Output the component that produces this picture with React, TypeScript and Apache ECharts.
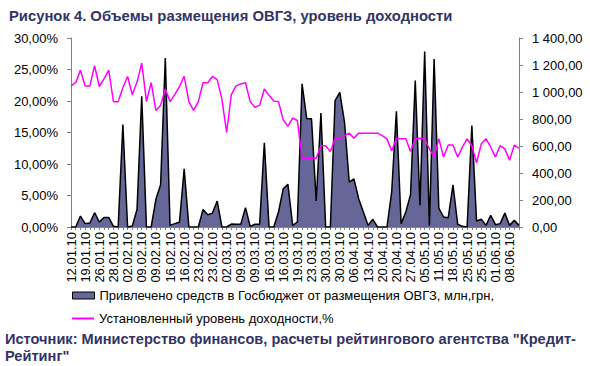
import React, { useEffect, useRef } from "react";
import * as echarts from "echarts";

// Tick labels shown on the category axis (every third auction)
const tickLabels = [
  "12.01.10", "19.01.10", "26.01.10", "28.01.10", "02.02.10", "09.02.10", "09.02.10", "16.02.10",
  "16.02.10", "23.02.10", "23.02.10", "02.03.10", "09.03.10", "09.03.10", "16.03.10", "16.03.10",
  "19.03.10", "23.03.10", "30.03.10", "30.03.10", "06.04.10", "13.04.10", "20.04.10", "20.04.10",
  "27.04.10", "05.05.10", "11.05.10", "18.05.10", "25.05.10", "25.05.10", "01.06.10", "08.06.10",
];

// Funds raised, mln UAH (right axis)
const placementVolume = [
  0, 0, 81, 25, 30, 106, 37, 71, 71, 5,
  0, 759, 0, 7, 130, 969, 0, 0, 205, 313,
  1252, 12, 25, 35, 431, 0, 0, 0, 130, 91,
  103, 192, 0, 0, 22, 20, 20, 143, 5, 20,
  20, 624, 0, 0, 111, 283, 316, 12, 37, 1060,
  801, 801, 192, 845, 0, 0, 937, 998, 776, 333,
  357, 210, 111, 12, 57, 0, 0, 0, 259, 858,
  25, 111, 240, 1085, 160, 1299, 12, 1245, 140, 74,
  69, 313, 20, 5, 0, 752, 44, 57, 12, 86,
  17, 25, 103, 12, 49, 12,
];

// Yield level, % (left axis)
const yieldLevel = [
  22.4, 22.9, 24.9, 22.4, 22.4, 25.6, 22.3, 23.5, 24.9, 19.9,
  19.9, 22.1, 23.9, 21.0, 23.0, 26.0, 19.9, 22.9, 18.5, 19.3,
  21.9, 19.9, 21.0, 22.3, 23.9, 19.9, 18.5, 19.9, 22.9, 22.9,
  23.9, 23.4, 20.3, 15.0, 21.0, 22.4, 22.7, 22.9, 19.9, 19.0,
  19.3, 21.9, 20.9, 20.0, 19.9, 17.0, 16.0, 17.3, 16.9, 10.9,
  10.9, 10.9, 10.9, 12.9, 12.9, 12.0, 14.0, 14.0, 14.5, 14.9,
  14.1, 14.9, 14.9, 14.9, 14.9, 14.9, 14.5, 14.0, 12.1, 14.0,
  14.0, 14.0, 12.0, 14.0, 14.1, 14.0, 12.4, 11.1, 14.0, 11.1,
  13.0, 13.0, 11.1, 12.7, 14.0, 12.9, 10.2, 13.2, 14.0, 12.7,
  11.1, 12.9, 12.4, 10.6, 13.0, 12.5,
];

const seriesNames = [
  "Привлечено средств в Госбюджет от размещения ОВГЗ, млн,грн,",
  "Установленный уровень доходности,%",
];

const titleText = "Рисунок 4. Объемы размещения ОВГЗ, уровень доходности";
const sourceText =
  'Источник: Министерство финансов, расчеты рейтингового агентства "Кредит-\nРейтинг"';

const FONT = "'Liberation Sans', Arial, sans-serif";
const NAVY = "#333366";
const AREA = "#666699";
const MAGENTA = "#ff00ff";

function fmtComma(v: number): string {
  const s = v.toFixed(2);
  const [intPart, dec] = s.split(".");
  const withSpaces = intPart.replace(/\B(?=(\d{3})+(?!\d))/g, " ");
  return withSpaces + "," + dec;
}

export default function App() {
  const ref = useRef<HTMLDivElement>(null);

  useEffect(() => {
    if (!ref.current) return;
    const chart = echarts.init(ref.current, undefined, { renderer: "svg" });
    // one category per auction; labels come from tickLabels (every third one)
    const categories = placementVolume.map((_, i) => String(i + 1));

    const legendText = { fontFamily: FONT, fontSize: 13, color: "#000" };

    chart.setOption({
      animation: false,
      backgroundColor: "#ffffff",
      textStyle: { fontFamily: FONT },
      title: {
        text: titleText,
        left: 4,
        top: 3,
        textStyle: { fontFamily: FONT, fontSize: 14.8, fontWeight: "bold", color: NAVY },
      },
      grid: { left: 71, right: 71, top: 38, bottom: 139 },
      legend: [
        {
          orient: "vertical",
          left: 72,
          top: 289,
          padding: 0,
          itemWidth: 22,
          itemHeight: 7,
          textStyle: legendText,
          data: [
            {
              name: seriesNames[0],
              icon: "rect",
              itemStyle: { color: AREA, borderColor: "#000", borderWidth: 1 },
            },
          ],
        },
        {
          orient: "vertical",
          left: 72,
          top: 312,
          padding: 0,
          itemWidth: 22,
          itemHeight: 2,
          textStyle: legendText,
          data: [
            {
              name: seriesNames[1],
              icon: "rect",
              itemStyle: { color: MAGENTA, borderWidth: 0 },
            },
          ],
        },
      ],
      xAxis: {
        type: "category",
        data: categories,
        boundaryGap: false,
        axisLine: { show: true, lineStyle: { color: "#808080", width: 1 } },
        axisTick: { show: true, interval: 0, length: 3, lineStyle: { color: "#808080" } },
        axisLabel: {
          interval: 2,
          rotate: 90,
          margin: 5,
          fontSize: 13,
          color: "#000",
          fontFamily: FONT,
          formatter: (_v: string, idx: number) => tickLabels[Math.floor(idx / 3)] ?? "",
        },
        splitLine: { show: false },
      },
      yAxis: [
        {
          type: "value",
          min: 0,
          max: 30,
          interval: 5,
          axisLine: { show: true, lineStyle: { color: "#808080", width: 1 } },
          axisTick: { show: true, length: 4, lineStyle: { color: "#808080" } },
          axisLabel: {
            formatter: (v: number) => fmtComma(v) + "%",
            fontSize: 13,
            color: "#000",
            margin: 13,
            fontFamily: FONT,
          },
          splitLine: { show: false },
        },
        {
          type: "value",
          min: 0,
          max: 1400,
          interval: 200,
          axisLine: { show: true, lineStyle: { color: "#808080", width: 1 } },
          axisTick: { show: true, length: 4, lineStyle: { color: "#808080" } },
          axisLabel: {
            formatter: (v: number) => fmtComma(v),
            fontSize: 13,
            color: "#000",
            margin: 13,
            fontFamily: FONT,
          },
          splitLine: { show: false },
        },
      ],
      series: [
        {
          name: seriesNames[0],
          type: "line",
          yAxisIndex: 1,
          data: placementVolume,
          symbol: "none",
          lineStyle: { color: "#000", width: 1.5 },
          itemStyle: { color: AREA },
          areaStyle: { color: AREA, opacity: 1 },
          z: 2,
        },
        {
          name: seriesNames[1],
          type: "line",
          yAxisIndex: 0,
          data: yieldLevel,
          symbol: "none",
          lineStyle: { color: MAGENTA, width: 1.5 },
          itemStyle: { color: MAGENTA },
          z: 3,
        },
      ],
      graphic: [
        {
          type: "text",
          left: 5,
          top: 330,
          style: {
            text: sourceText,
            fontFamily: FONT,
            fontSize: 14.6,
            fontWeight: "bold",
            fill: NAVY,
            lineHeight: 17,
          },
        },
      ],
    });

    return () => chart.dispose();
  }, []);

  return (
    <div
      ref={ref}
      style={{ position: "fixed", left: 0, top: 0, width: 590, height: 366, background: "#fff" }}
    />
  );
}
